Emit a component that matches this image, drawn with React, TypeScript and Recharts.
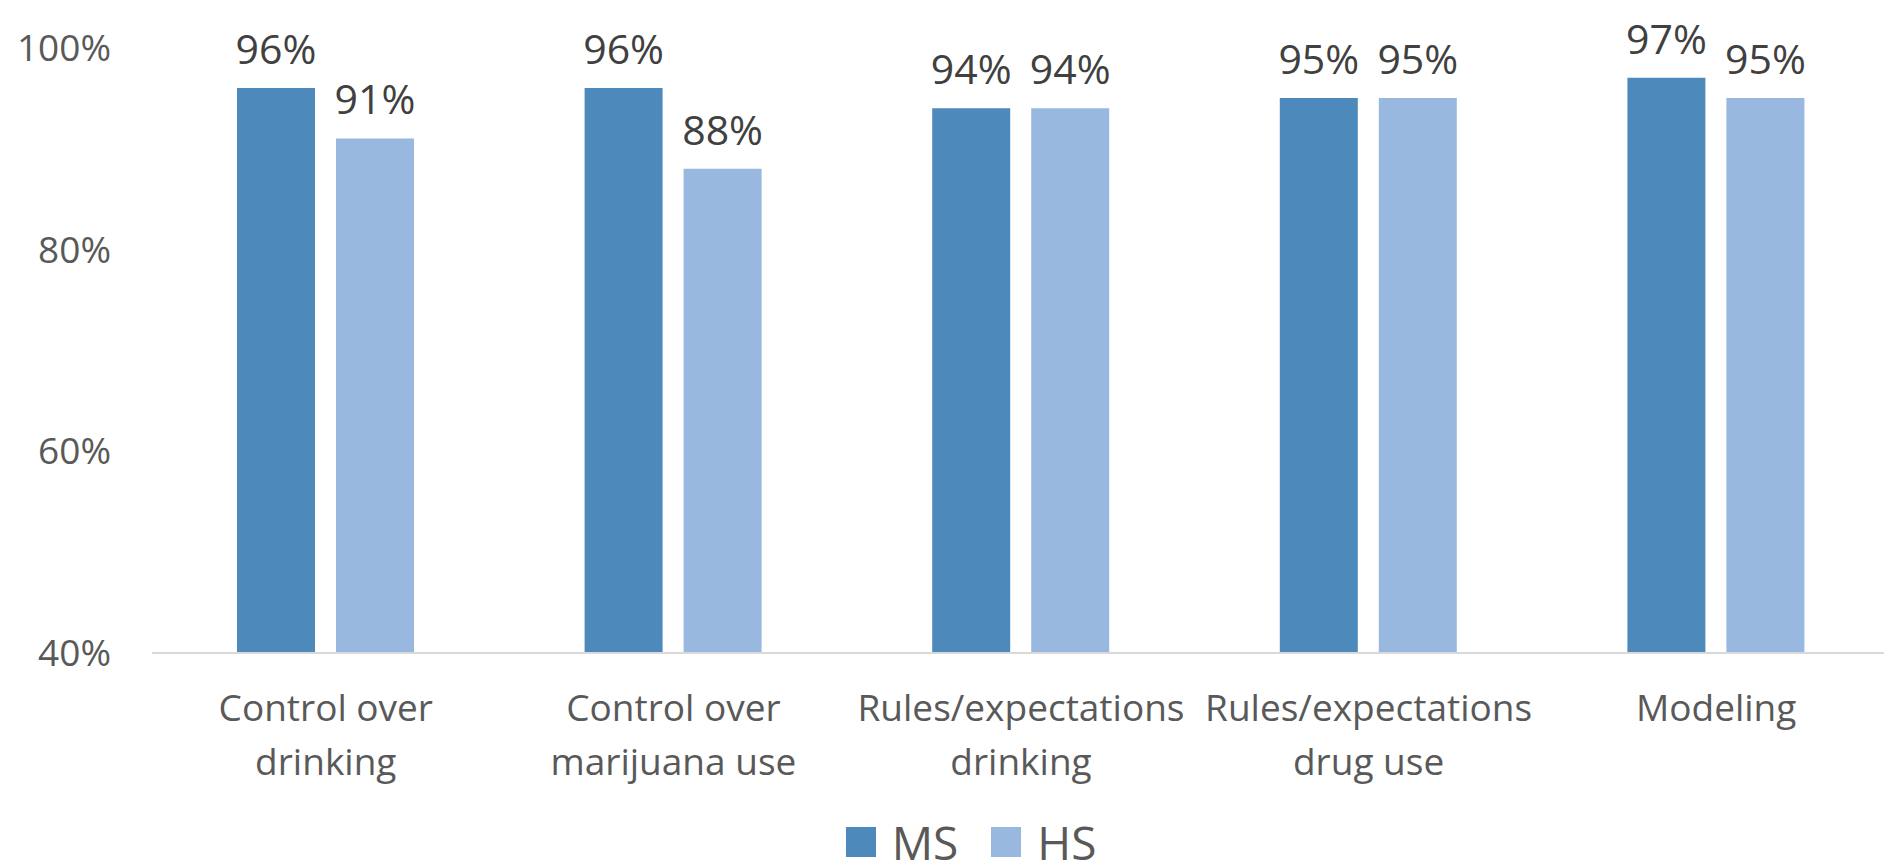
import { BarChart, Bar, XAxis, YAxis, Legend, LabelList } from 'recharts';

const categories = [
  'Control over\ndrinking',
  'Control over\nmarijuana use',
  'Rules/expectations\ndrinking',
  'Rules/expectations\ndrug use',
  'Modeling',
];
const msValues = [96, 96, 94, 95, 97];
const hsValues = [91, 88, 94, 95, 95];
const yTicks = [40, 60, 80, 100];

const MS_COLOR = '#4E89BC';
const HS_COLOR = '#98B8DF';
const FONT = '"Open Sans", sans-serif';

const chartData = categories.map((name, i) => ({ name, MS: msValues[i], HS: hsValues[i] }));

// two-line category labels under the axis
function CategoryTick({ x, y, payload }: { x: number; y: number; payload: { value: string } }) {
  const lines = String(payload.value).split('\n');
  return (
    <text x={x} y={y} textAnchor="middle" fill="#595959" fontSize={37} fontFamily={FONT}>
      {lines.map((line, i) => (
        <tspan key={i} x={x} dy={i === 0 ? 60 : 54}>{line}</tspan>
      ))}
    </text>
  );
}

function LegendContent() {
  const items = [
    { label: 'MS', color: MS_COLOR },
    { label: 'HS', color: HS_COLOR },
  ];
  return (
    <div style={{ display: 'flex', justifyContent: 'center', alignItems: 'center', gap: 33, fontFamily: FONT }}>
      {items.map(it => (
        <div key={it.label} style={{ display: 'flex', alignItems: 'center' }}>
          <span style={{ width: 30, height: 30, background: it.color, display: 'inline-block', marginRight: 16 }} />
          <span style={{ fontSize: 46, color: '#595959', lineHeight: '40px' }}>{it.label}</span>
        </div>
      ))}
    </div>
  );
}

export default function App() {
  return (
    <div style={{ position: 'fixed', left: 0, top: 0, width: 1884, height: 861, overflow: 'hidden', background: '#fff' }}>
      <BarChart
        width={1900}
        height={861}
        data={chartData}
        margin={{ top: 47.6, right: 10, left: 0, bottom: 0 }}
        barSize={78}
        barGap={21}
      >
        <XAxis
          dataKey="name"
          axisLine={{ stroke: '#D9D9D9', strokeWidth: 2 }}
          tickLine={false}
          height={208}
          interval={0}
          tick={CategoryTick}
        />
        <YAxis
          domain={[40, 100]}
          ticks={yTicks}
          width={152}
          axisLine={false}
          tickLine={false}
          tickMargin={35}
          tickFormatter={v => `${v}%`}
          tick={{ fontSize: 37, fill: '#595959', fontFamily: FONT }}
        />
        <Legend
          layout="horizontal"
          verticalAlign="middle"
          align="center"
          wrapperStyle={{ top: 822, left: 29, width: 1884 }}
          content={LegendContent}
        />
        <Bar dataKey="MS" fill={MS_COLOR} isAnimationActive={false}>
          <LabelList dataKey="MS" position="top" offset={24} formatter={(v: any) => `${v}%`}
            style={{ fontSize: 41, fill: '#404040', fontFamily: FONT }} />
        </Bar>
        <Bar dataKey="HS" fill={HS_COLOR} isAnimationActive={false}>
          <LabelList dataKey="HS" position="top" offset={24} formatter={(v: any) => `${v}%`}
            style={{ fontSize: 41, fill: '#404040', fontFamily: FONT }} />
        </Bar>
      </BarChart>
    </div>
  );
}
